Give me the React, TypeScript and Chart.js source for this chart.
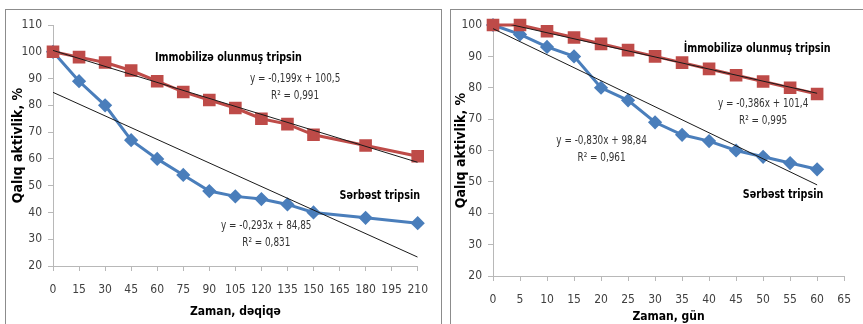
import React, { useEffect, useRef } from "react";
import { Chart, registerables } from "chart.js";

Chart.register(...registerables);

// ---------- data ----------
const minutes = [0, 15, 30, 45, 60, 75, 90, 105, 120, 135, 150, 180, 210];
const freeByMinutes = [100, 89, 80, 67, 60, 54, 48, 46, 45, 43, 40, 38, 36];
const immobByMinutes = [100, 98, 96, 93, 89, 85, 82, 79, 75, 73, 69, 65, 61];

const days = [0, 5, 10, 15, 20, 25, 30, 35, 40, 45, 50, 55, 60];
const freeByDays = [100, 97, 93, 90, 80, 76, 69, 65, 63, 60, 58, 56, 54];
const immobByDays = [100, 100, 98, 96, 94, 92, 90, 88, 86, 84, 82, 80, 78];

// trend lines as printed on the chart: [slope, intercept]
const trendFreeMinutes = [-0.293, 84.85];
const trendImmobMinutes = [-0.199, 100.5];
const trendFreeDays = [-0.83, 98.84];
const trendImmobDays = [-0.386, 101.4];

const FONT = "'Liberation Sans Narrow', 'DejaVu Sans Condensed', 'Roboto', sans-serif";
const BLUE = "#4a7ebb";
const RED = "#be4b48";
const AXIS = "#b8b8b8";
const TICK = "#404040";
const SQUEEZE = 0.82;

type Label = { text: string; x: number; y: number; bold?: boolean };

const leftLabels: Label[] = [
  { text: "Immobilizə olunmuş tripsin", x: 101, y: 98, bold: true },
  { text: "y = -0,199x + 100,5", x: 139.4, y: 89.8 },
  { text: "R² = 0,991", x: 139.4, y: 83.5 },
  { text: "Sərbəst tripsin", x: 188.2, y: 46.1, bold: true },
  { text: "y = -0,293x + 84,85", x: 122.8, y: 34.9 },
  { text: "R² = 0,831", x: 122.8, y: 28.6 },
];

const rightLabels: Label[] = [
  { text: "İmmobilizə olunmuş tripsin", x: 48.9, y: 92.35, bold: true },
  { text: "y = -0,386x + 101,4", x: 50.0, y: 74.8 },
  { text: "R² = 0,995", x: 50.0, y: 69.4 },
  { text: "y = -0,830x + 98,84", x: 20.1, y: 63.0 },
  { text: "R² = 0,961", x: 20.1, y: 57.6 },
  { text: "Sərbəst tripsin", x: 53.7, y: 45.8, bold: true },
];

type PanelProps = {
  xs: number[];
  free: number[];
  immob: number[];
  trendFree: number[];
  trendImmob: number[];
  xMax: number;
  xStep: number;
  yMin: number;
  yMax: number;
  xTitle: string;
  labels: Label[];
  width: number;
  height: number;
  yAxisWidth: number;
  xAxisHeight: number;
  padRight: number;
  padTop: number;
  yTitlePad: number;
  xTitlePad: number;
};

function trendPoints(xs: number[], t: number[]) {
  const a = xs[0];
  const b = xs[xs.length - 1];
  return [
    { x: a, y: t[0] * a + t[1] },
    { x: b, y: t[0] * b + t[1] },
  ];
}

function Panel(p: PanelProps) {
  const ref = useRef<HTMLCanvasElement | null>(null);
  useEffect(() => {
    if (!ref.current) return;
    const labelPlugin = {
      id: "textLabels",
      afterDatasetsDraw(chart: any) {
        const { ctx, scales } = chart;
        for (const l of p.labels) {
          ctx.save();
          ctx.textAlign = "center";
          ctx.textBaseline = "middle";
          ctx.font = `${l.bold ? "bold 13px" : "12px"} ${FONT}`;
          ctx.fillStyle = l.bold ? "#000000" : "#333333";
          ctx.translate(scales.x.getPixelForValue(l.x), scales.y.getPixelForValue(l.y));
          ctx.scale(SQUEEZE, 1);
          ctx.fillText(l.text, 0, 0);
          ctx.restore();
        }
      },
    };
    const chart = new Chart(ref.current, {
      type: "line",
      data: {
        datasets: [
          {
            label: "trend free",
            data: trendPoints(p.xs, p.trendFree),
            borderColor: "#1a1a1a",
            borderWidth: 1,
            pointRadius: 0,
            order: 0,
            clip: 0,
          },
          {
            label: "trend immob",
            data: trendPoints(p.xs, p.trendImmob),
            borderColor: "#1a1a1a",
            borderWidth: 1,
            pointRadius: 0,
            order: 0,
            clip: 0,
          },
          {
            label: "Sərbəst tripsin",
            data: p.xs.map((x, i) => ({ x, y: p.free[i] })),
            borderColor: BLUE,
            backgroundColor: BLUE,
            borderWidth: 3,
            pointStyle: "rectRot",
            pointRadius: 5,
            order: 2,
            clip: false,
          },
          {
            label: "Immobilizə olunmuş tripsin",
            data: p.xs.map((x, i) => ({ x, y: p.immob[i] })),
            borderColor: RED,
            backgroundColor: RED,
            borderWidth: 3,
            pointStyle: "rect",
            pointRadius: 6.8,
            order: 1,
            clip: false,
          },
        ],
      },
      options: {
        animation: false,
        responsive: false,
        layout: { padding: { left: 0, right: p.padRight, top: p.padTop, bottom: 0 } },
        plugins: { legend: { display: false }, tooltip: { enabled: false } },
        scales: {
          x: {
            type: "linear",
            min: 0,
            max: p.xMax,
            afterFit: (s: any) => {
              s.height = p.xAxisHeight;
            },
            ticks: {
              stepSize: p.xStep,
              color: TICK,
              font: { family: FONT, size: 12 },
              padding: 12,
              maxRotation: 0,
              autoSkip: false,
            },
            grid: { drawOnChartArea: false, drawTicks: true, tickLength: 5, color: AXIS },
            border: { display: true, color: AXIS },
            title: {
              display: true,
              text: p.xTitle,
              color: "#000",
              font: { family: FONT, size: 12, weight: "bold" },
              padding: { top: 0, bottom: p.xTitlePad },
            },
          },
          y: {
            type: "linear",
            min: p.yMin,
            max: p.yMax,
            afterFit: (s: any) => {
              s.width = p.yAxisWidth;
            },
            ticks: {
              stepSize: 10,
              color: TICK,
              font: { family: FONT, size: 12 },
              padding: 6,
            },
            grid: { drawOnChartArea: false, drawTicks: true, tickLength: 5, color: AXIS },
            border: { display: true, color: AXIS },
            title: {
              display: true,
              text: "Qalıq aktivlik, %",
              color: "#000",
              font: { family: FONT, size: 14, weight: "bold" },
              padding: { top: p.yTitlePad, bottom: 0 },
            },
          },
        },
      },
      plugins: [labelPlugin],
    } as any);
    return () => chart.destroy();
  }, []);
  return <canvas ref={ref} width={p.width} height={p.height} style={{ display: "block" }} />;
}

export default function App() {
  return (
    <div
      style={{
        position: "absolute",
        left: 0,
        top: 0,
        width: 863,
        height: 324,
        overflow: "hidden",
        background: "#ffffff",
      }}
    >
      <div
        style={{
          position: "absolute",
          left: 5,
          top: 9,
          width: 437,
          height: 330,
          border: "1px solid #8c8c8c",
          boxSizing: "border-box",
        }}
      />
      <div
        style={{
          position: "absolute",
          left: 450,
          top: 9,
          width: 430,
          height: 330,
          border: "1px solid #8c8c8c",
          boxSizing: "border-box",
        }}
      />
      <div style={{ position: "absolute", left: 6, top: 10 }}>
        <Panel
          xs={minutes}
          free={freeByMinutes}
          immob={immobByMinutes}
          trendFree={trendFreeMinutes}
          trendImmob={trendImmobMinutes}
          xMax={210}
          xStep={15}
          yMin={20}
          yMax={110}
          xTitle="Zaman, dəqiqə"
          labels={leftLabels}
          width={434}
          height={314}
          yAxisWidth={47}
          xAxisHeight={58}
          padRight={21}
          padTop={15}
          yTitlePad={4}
          xTitlePad={5}
        />
      </div>
      <div style={{ position: "absolute", left: 451, top: 10 }}>
        <Panel
          xs={days}
          free={freeByDays}
          immob={immobByDays}
          trendFree={trendFreeDays}
          trendImmob={trendImmobDays}
          xMax={65}
          xStep={5}
          yMin={20}
          yMax={100}
          xTitle="Zaman, gün"
          labels={rightLabels}
          width={412}
          height={314}
          yAxisWidth={42}
          xAxisHeight={48}
          padRight={14}
          padTop={15}
          yTitlePad={2}
          xTitlePad={0}
        />
      </div>
    </div>
  );
}
